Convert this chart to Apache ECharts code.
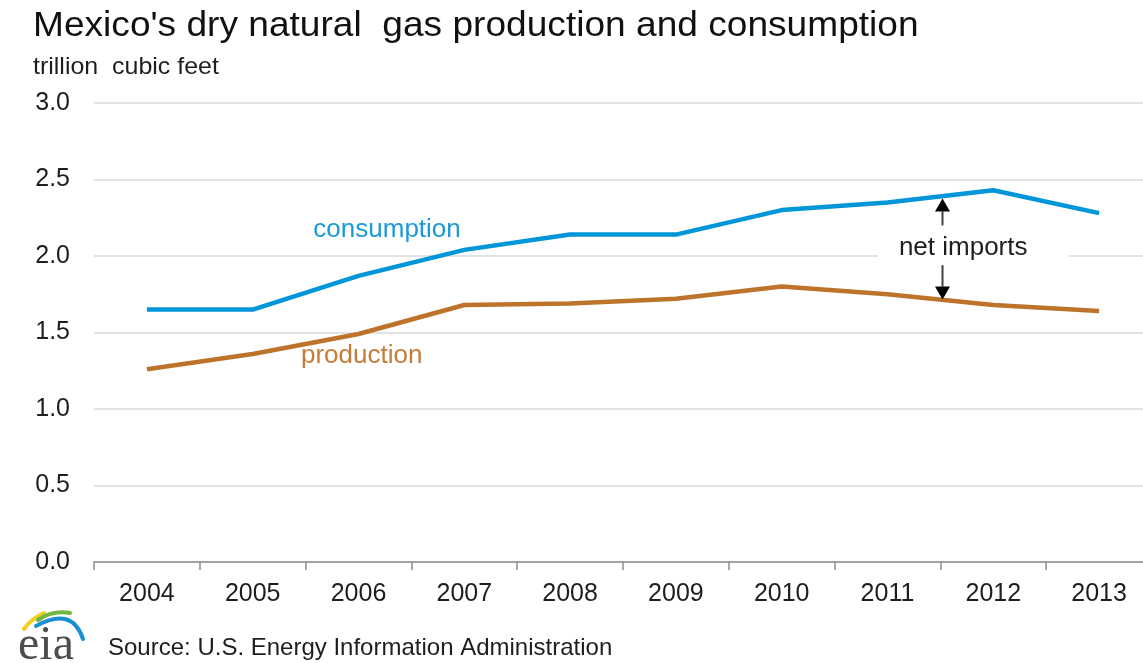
<!DOCTYPE html>
<html><head><meta charset="utf-8">
<script src="https://cdn.jsdelivr.net/npm/echarts@6/dist/echarts.min.js"></script>
<style>html,body{margin:0;padding:0;background:#fff;overflow:hidden;width:1143px;height:663px}#c{width:1160px;height:663px}</style>
</head><body><div id="c"></div>
<script>
// ---- data ----
const years = ['2004','2005','2006','2007','2008','2009','2010','2011','2012','2013'];
const consumption = [1.65, 1.65, 1.87, 2.04, 2.14, 2.14, 2.30, 2.35, 2.43, 2.28];
const production  = [1.26, 1.36, 1.49, 1.68, 1.69, 1.72, 1.80, 1.75, 1.68, 1.64];
const yTickValues = [0, 0.5, 1.0, 1.5, 2.0, 2.5, 3.0];
const titleText = "Mexico's dry natural  gas production and consumption";
const unitText = 'trillion  cubic feet';
const sourceText = 'Source: U.S. Energy Information Administration';
const seriesNames = ['consumption', 'production', 'net imports'];

const FONT = '"Liberation Sans", Arial, sans-serif';
const BLUE = '#0096d7';
const BROWN = '#bd732a';
const TXT = '#1e1e1e';

const chart = echarts.init(document.getElementById('c'), null, {renderer: 'canvas'});

// annotation placement (in axis coordinates: x = category index, y = value)
const labelItems = [
  {value: [2.27, 2.17], text: seriesNames[0], color: '#1b9ad8', bg: null},
  {value: [2.03, 1.345], text: seriesNames[1], color: '#c47c37', bg: null},
  {value: [7.81, 2.055], text: seriesNames[2], color: TXT, bg: '#fff'}
];
const arrowItems = [
  [7.52, 2.20, 2.376],
  [7.52, 1.94, 1.716]
];

const option = {
  animation: false,
  backgroundColor: '#fff',
  grid: {left: 94, top: 103, width: 1058, height: 459, containLabel: false},
  xAxis: [{
    type: 'category', data: years, boundaryGap: true,
    axisLine: {show: true, lineStyle: {color: '#8c8c8c', width: 1.5}},
    axisTick: {show: true, length: 8, lineStyle: {color: '#8c8c8c', width: 1.5}},
    axisLabel: {fontSize: 25, color: TXT, fontFamily: FONT, margin: 20},
    splitLine: {show: false}
  }, {
    type: 'value', min: -0.5, max: 9.5, show: false
  }],
  yAxis: {
    type: 'value', min: yTickValues[0], max: yTickValues[yTickValues.length - 1], interval: 0.5,
    axisLine: {show: false}, axisTick: {show: false},
    axisLabel: {fontSize: 25, color: TXT, fontFamily: FONT, margin: 24,
      formatter: v => v.toFixed(1)},
    splitLine: {show: true, lineStyle: {color: '#d9d9d9', width: 1.5}}
  },
  series: [
    {name: seriesNames[0], type: 'line', data: consumption, symbol: 'none',
      lineStyle: {color: BLUE, width: 4.5}, itemStyle: {color: BLUE}, z: 3},
    {name: seriesNames[1], type: 'line', data: production, symbol: 'none',
      lineStyle: {color: BROWN, width: 4.5}, itemStyle: {color: BROWN}, z: 3},
    {type: 'custom', xAxisIndex: 1, yAxisIndex: 0, z: 2, silent: true,
      data: labelItems.map(d => d.value),
      renderItem: (params, api) => {
        const p = api.coord([api.value(0), api.value(1)]);
        const it = labelItems[params.dataIndex];
        const style = {text: it.text, fill: it.color, font: '26px ' + FONT,
          align: 'center', verticalAlign: 'middle'};
        if (it.bg) { style.backgroundColor = it.bg; style.padding = [2, 41, 2, 21]; }
        return {type: 'text', x: p[0], y: p[1], style};
      }},
    {type: 'custom', xAxisIndex: 1, yAxisIndex: 0, z: 4, silent: true,
      data: arrowItems,
      renderItem: (params, api) => {
        const p0 = api.coord([api.value(0), api.value(1)]);
        const p1 = api.coord([api.value(0), api.value(2)]);
        const dir = p1[1] > p0[1] ? 1 : -1;
        const h = 13, w = 7.5;
        const baseY = p1[1] - dir * h;
        return {type: 'group', children: [
          {type: 'line', shape: {x1: p0[0], y1: p0[1], x2: p1[0], y2: baseY},
            style: {stroke: '#404040', lineWidth: 2}},
          {type: 'polygon', shape: {points: [[p1[0], p1[1]], [p1[0] - w, baseY], [p1[0] + w, baseY]]},
            style: {fill: '#000'}}
        ]};
      }}
  ],
  graphic: [
    {type: 'text', x: 33, y: 9, scaleX: 1.06, style: {text: titleText, fill: '#111', font: '35px ' + FONT}},
    {type: 'text', x: 33, y: 55, scaleX: 1.04, style: {text: unitText, fill: TXT, font: '24px ' + FONT}},
    {type: 'text', x: 108, y: 636, style: {text: sourceText, fill: TXT, font: '24px ' + FONT}},
    // eia logo
    {type: 'text', x: 18, y: 622, style: {text: 'eia', fill: '#4d4d4d', font: '48px "Liberation Serif", "DejaVu Serif", serif'}},
    {type: 'bezierCurve', shape: {x1: 24, y1: 629, cpx1: 31, cpy1: 619, x2: 44, y2: 613},
      style: {stroke: '#f0cf1e', lineWidth: 4, fill: null, lineCap: 'round'}},
    {type: 'bezierCurve', shape: {x1: 38, y1: 620, cpx1: 52, cpy1: 610, x2: 70, y2: 613},
      style: {stroke: '#6fb83f', lineWidth: 4, fill: null, lineCap: 'round'}},
    {type: 'bezierCurve', shape: {x1: 36, y1: 626, cpx1: 72, cpy1: 606, x2: 83, y2: 639},
      style: {stroke: '#1b8fd6', lineWidth: 4, fill: null, lineCap: 'round'}}
  ]
};
chart.setOption(option);
</script>
</body></html>
